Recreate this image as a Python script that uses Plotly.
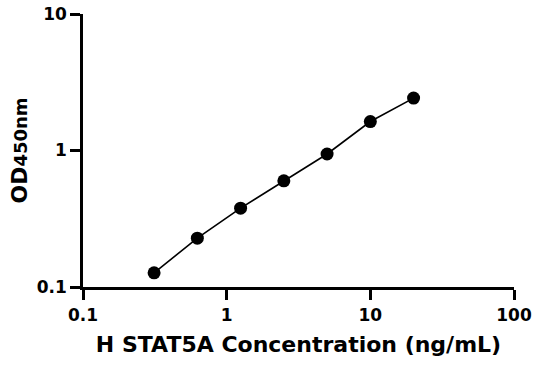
import plotly.graph_objects as go

conc = [0.3125, 0.625, 1.25, 2.5, 5, 10, 20]
od450 = [0.127, 0.228, 0.378, 0.600, 0.943, 1.63, 2.42]
x_ticks = [0.1, 1, 10, 100]
x_tick_labels = ["0.1", "1", "10", "100"]
y_ticks = [0.1, 1, 10]
y_tick_labels = ["0.1", "1", "10"]

FONT = "DejaVu Sans"

fig = go.Figure()
fig.add_trace(go.Scatter(
    x=conc, y=od450, mode="lines+markers",
    line=dict(color="black", width=1.6),
    marker=dict(color="black", size=13),
    showlegend=False,
))

axis_common = dict(
    type="log", showgrid=False, zeroline=False, automargin=False,
    showline=True, linecolor="black", linewidth=2.5,
    ticks="outside", ticklen=10, tickwidth=2.5, tickcolor="black",
    ticklabeloverflow="allow",
    tickfont=dict(family=FONT, size=17, color="black", weight="bold"),
)

fig.update_layout(
    width=536, height=371,
    margin=dict(l=83, r=22, t=14, b=84),
    paper_bgcolor="white", plot_bgcolor="white",
    xaxis=dict(
        axis_common, range=[-1, 2], tickvals=x_ticks, ticktext=x_tick_labels,
        ticklabelstandoff=1,
        title=dict(text="H STAT5A Concentration (ng/mL)",
                   font=dict(family=FONT, size=22, color="black", weight="bold"),
                   standoff=13),
    ),
    yaxis=dict(
        axis_common, range=[-1, 1], tickvals=y_ticks, ticktext=y_tick_labels,
        ticklabelstandoff=0,
        title=dict(text="OD<span style='font-size:18px'>450nm</span>",
                   font=dict(family=FONT, size=22, color="black", weight="bold"),
                   standoff=4),
    ),
)

fig.write_html(
    "out.html",
    config={"displayModeBar": False},
    post_script="document.body.style.margin='0';document.body.style.overflow='hidden';",
)
